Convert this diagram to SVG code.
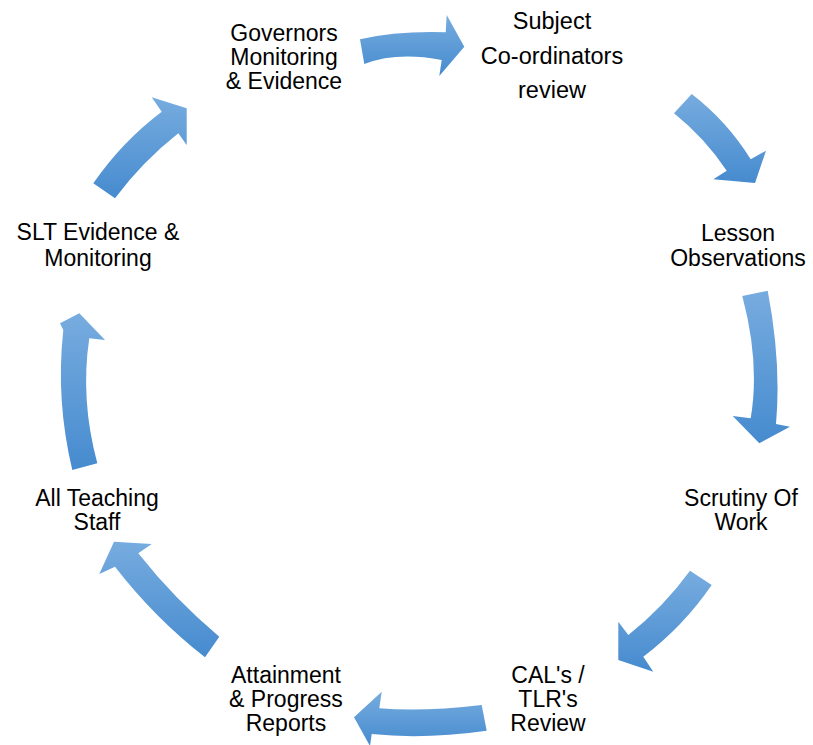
<svg xmlns="http://www.w3.org/2000/svg" width="813" height="745" viewBox="0 0 813 745">
<defs>
<linearGradient id="g" x1="0" y1="0" x2="0" y2="1">
<stop offset="0" stop-color="#77acdf"/>
<stop offset="1" stop-color="#468bcf"/>
</linearGradient>
<style>
.a{fill:url(#g);stroke:none}
text{font-family:"Liberation Sans",Arial,sans-serif;font-size:23px;fill:#000;text-anchor:middle}
</style>
</defs>
<rect width="813" height="745" fill="#fff"/>
<g id="connectors">
<path class="a" d="M360,39.3 Q397,30.8 445.7,32.3 L446.7,15 L464.3,46.7 L439.3,76 L441.7,60 Q397,51.4 364.3,64 Z"/>
<path class="a" d="M691.7,94 Q727.2,121.3 750.7,159.3 L766,150.7 L755,183 L713.3,179.3 L726.7,170.7 Q704.8,138 674,113.3 Z"/>
<path class="a" d="M767.7,290.7 Q781.5,362.6 776,424 L790,426.7 L759.3,443.3 L732.7,416 L750.7,418.3 Q760.1,362.8 742.3,296 Z"/>
<path class="a" d="M711.7,585 Q683.3,626.4 643.3,656.7 L653.3,671.7 L618.3,660 L618.3,621.7 L628.3,635 Q663.5,607.1 690,570.7 Z"/>
<path class="a" d="M486.7,730.7 Q424.2,739.6 371.7,734 L370,746 L354,717.3 L381.7,691.7 L379.3,708.3 Q422.9,712 481.7,705 Z"/>
<path class="a" d="M72.3,470 Q55.6,400 63.3,330 L60,323.3 L79.3,313.3 L105,340 L89.3,338.3 Q80.1,399.2 97.3,463.3 Z"/>
<path class="a" d="M93.3,183.3 Q121.8,141.9 161.7,111.7 L151.7,97.3 L186.7,108.3 L186.7,145 L178.3,133.3 Q142.4,161.6 115,198.3 Z"/>
<path class="a" d="M219.3,636.7 Q174.5,599.2 138.3,553.3 L151.7,544 L114,541.7 L99.3,574 L115,566.7 Q154.3,617.6 205,657.3 Z"/>
</g>
<g id="node-governors"><text x="284" y="41">Governors</text><text x="284" y="65">Monitoring</text><text x="284" y="89">&amp; Evidence</text></g>
<g id="node-subject"><text x="552" y="29" style="font-size:23.5px">Subject</text><text x="552" y="64" style="font-size:23.5px">Co-ordinators</text><text x="552" y="98" style="font-size:23.5px">review</text></g>
<g id="node-lesson"><text x="738" y="241">Lesson</text><text x="738" y="266">Observations</text></g>
<g id="node-scrutiny"><text x="741" y="506">Scrutiny Of</text><text x="741" y="530">Work</text></g>
<g id="node-cal"><text x="548" y="683">CAL's /</text><text x="548" y="707">TLR's</text><text x="548" y="731">Review</text></g>
<g id="node-attainment"><text x="286" y="683">Attainment</text><text x="286" y="707">&amp; Progress</text><text x="286" y="731">Reports</text></g>
<g id="node-allstaff"><text x="97" y="506">All Teaching</text><text x="97" y="530">Staff</text></g>
<g id="node-slt"><text x="98" y="240">SLT Evidence &amp;</text><text x="98" y="266">Monitoring</text></g>
</svg>
